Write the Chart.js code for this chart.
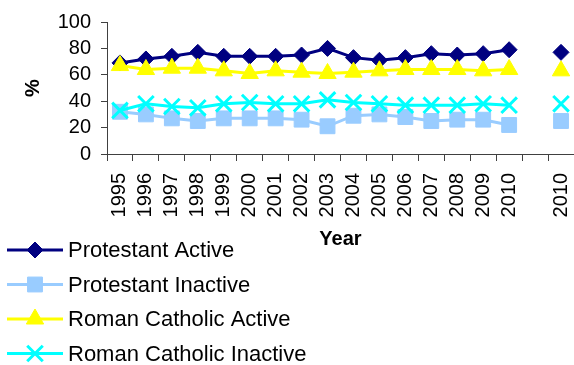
<!DOCTYPE html>
<html>
<head>
<meta charset="utf-8">
<script src="https://cdn.jsdelivr.net/npm/chart.js@4/dist/chart.umd.min.js"></script>
<style>
  html, body { margin: 0; padding: 0; background: #fff; }
  canvas { display: block; }
</style>
</head>
<body>
<canvas id="chart" width="574" height="365"></canvas>
<script>
// x categories: 1995..2010, then an empty slot, then a separate 2010 point
const years = ["1995", "1996", "1997", "1998", "1999", "2000", "2001", "2002",
  "2003", "2004", "2005", "2006", "2007", "2008", "2009", "2010", "", "2010"];

const protActive = [69, 72, 74, 77, 74, 74, 74, 75, 80, 73, 71, 73, 76, 75, 76, 79, null, 77];
const protInactive = [32, 30, 27, 25, 27, 27, 27, 26, 21, 29, 30, 28, 25, 26, 26, 22, null, 25];
const rcActive = [67, 64, 65, 65, 63, 61, 63, 62, 61, 62, 63, 64, 64, 64, 63, 64, null, 63];
const rcInactive = [33, 38, 36, 35, 38, 39, 38, 38, 41, 39, 38, 37, 37, 37, 38, 37, null, 38];

const yTicks = [0, 20, 40, 60, 80, 100];

const FONT = '"Liberation Sans", Arial, sans-serif';
const axisColor = "#404040";

function series(label, data, color, style, radius, order) {
  return {
    label,
    data,
    borderColor: color,
    backgroundColor: color,
    borderWidth: 3,
    pointStyle: style,
    pointRadius: radius,
    pointHoverRadius: radius,
    pointBackgroundColor: color,
    pointBorderColor: color,
    pointBorderWidth: style === "crossRot" ? 3 : 1,
    tension: 0,
    spanGaps: false,
    order
  };
}

const datasets = [
  series("Protestant Active", protActive, "#000080", "rectRot", 8, 4),
  series("Protestant Inactive", protInactive, "#99CCFF", "rect", 10.5, 3),
  series("Roman Catholic Active", rcActive, "#FFFF00", "triangle", 10, 2),
  series("Roman Catholic Inactive", rcInactive, "#00FFFF", "crossRot", 11, 1)
];

// legend stacked in a column under the chart, drawn on the same canvas
const columnLegend = {
  id: "columnLegend",
  afterDraw(chart) {
    const ctx = chart.ctx;
    const drawPoint = Chart.helpers && Chart.helpers.drawPoint;
    chart.data.datasets.forEach((ds, i) => {
      const y = 250 + i * 34.5;
      ctx.save();
      ctx.strokeStyle = ds.borderColor;
      ctx.lineWidth = ds.borderWidth;
      ctx.beginPath();
      ctx.moveTo(7, y);
      ctx.lineTo(63, y);
      ctx.stroke();
      if (drawPoint) {
        ctx.fillStyle = ds.pointBackgroundColor;
        ctx.strokeStyle = ds.pointBorderColor;
        ctx.lineWidth = ds.pointBorderWidth;
        drawPoint(ctx, {
          pointStyle: ds.pointStyle,
          radius: ds.pointRadius,
          borderWidth: ds.pointBorderWidth,
          rotation: 0
        }, 35, y);
      }
      ctx.fillStyle = "#000";
      ctx.font = "22px " + FONT;
      ctx.textBaseline = "middle";
      ctx.textAlign = "left";
      ctx.fillText(ds.label, 68, y + 1);
      ctx.restore();
    });
  }
};

new Chart(document.getElementById("chart"), {
  type: "line",
  data: { labels: years, datasets },
  options: {
    responsive: false,
    animation: false,
    layout: {
      autoPadding: false,
      padding: { top: 20, right: 0, bottom: 111, left: 0 }
    },
    plugins: {
      legend: { display: false },
      tooltip: { enabled: false }
    },
    scales: {
      x: {
        offset: true,
        ticks: {
          autoSkip: false,
          minRotation: 90,
          maxRotation: 90,
          padding: 12,
          color: "#000",
          font: { family: FONT, size: 20 }
        },
        grid: {
          drawOnChartArea: false,
          drawTicks: true,
          tickLength: 7,
          color: axisColor,
          offset: true
        },
        border: { display: true, color: axisColor, width: 1 },
        title: {
          display: true,
          text: "Year",
          color: "#000",
          font: { family: FONT, size: 20, weight: "bold" },
          padding: { top: 0, bottom: 3 }
        },
        afterFit: (scale) => {
          scale.height = 100;
          scale.paddingLeft = 0;
          scale.paddingRight = 0;
        }
      },
      y: {
        min: 0,
        max: 100,
        afterBuildTicks: (scale) => { scale.ticks = yTicks.map((v) => ({ value: v })); },
        ticks: {
          autoSkip: false,
          padding: 10,
          color: "#000",
          font: { family: FONT, size: 20 }
        },
        grid: {
          drawOnChartArea: false,
          drawTicks: true,
          tickLength: 6,
          color: axisColor
        },
        border: { display: true, color: axisColor, width: 1 },
        title: {
          display: true,
          text: "%",
          color: "#000",
          font: { family: FONT, size: 20, weight: "bold" },
          padding: { top: 21, bottom: 0 }
        },
        afterFit: (scale) => { scale.width = 107; }
      }
    }
  },
  plugins: [columnLegend]
});
</script>
</body>
</html>
